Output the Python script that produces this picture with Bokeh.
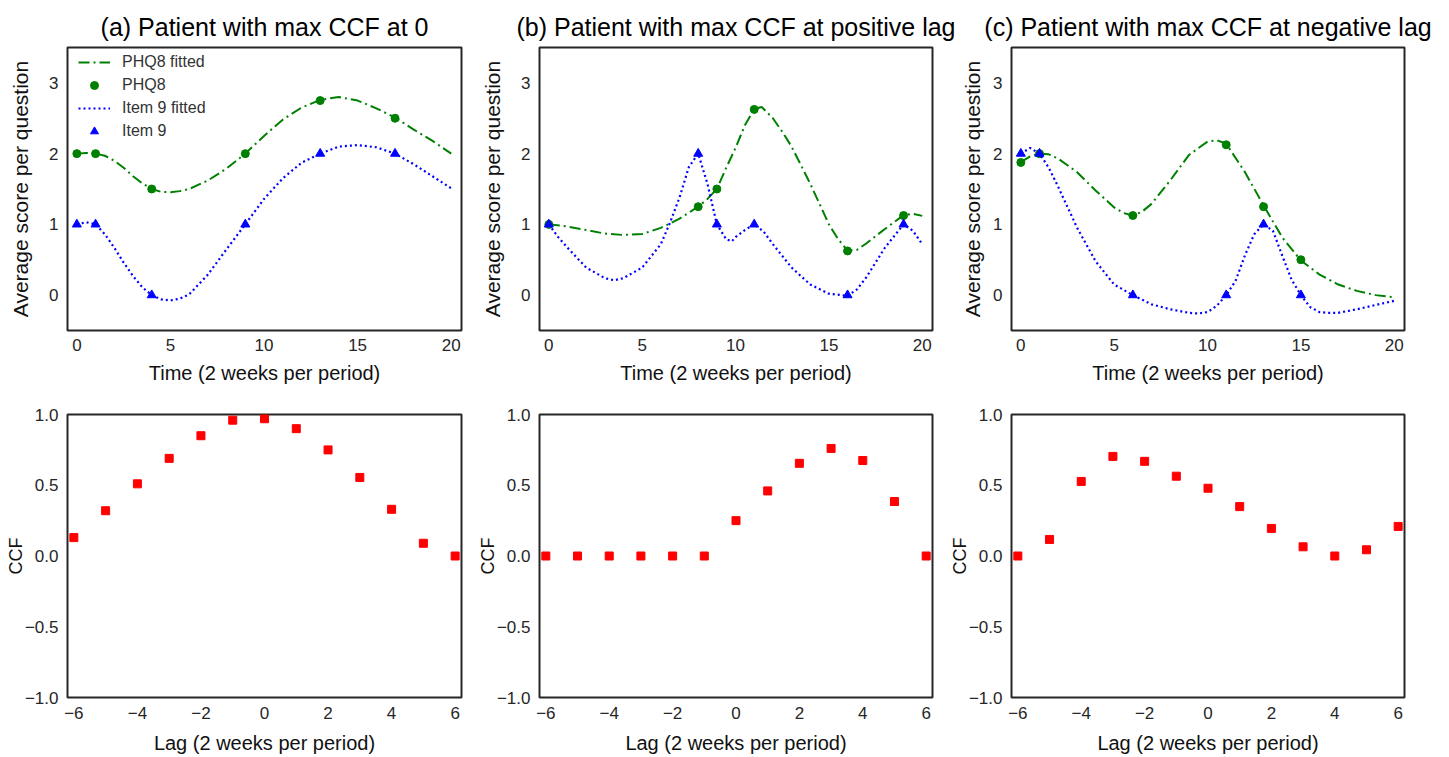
from bokeh.plotting import figure
from bokeh.models import Range1d, FixedTicker, Legend, LegendItem
from bokeh.layouts import column, row
from bokeh.embed import file_html
from bokeh.resources import INLINE

FONT = "Liberation Sans"

# ---------------- data ----------------
titles = ["(a) Patient with max CCF at 0",
          "(b) Patient with max CCF at positive lag",
          "(c) Patient with max CCF at negative lag"]
legend_labels = ["PHQ8 fitted", "PHQ8", "Item 9 fitted", "Item 9"]
time_axis_label = "Time (2 weeks per period)"
score_axis_label = "Average score per question"
lag_axis_label = "Lag (2 weeks per period)"
ccf_axis_label = "CCF"

time_ticks = [0, 5, 10, 15, 20]
score_ticks = [0, 1, 2, 3]
lag_ticks = [-6, -4, -2, 0, 2, 4, 6]
lag_tick_labels = ["\u22126", "\u22124", "\u22122", "0", "2", "4", "6"]
ccf_ticks = [-1.0, -0.5, 0.0, 0.5, 1.0]
ccf_tick_labels = ["\u22121.0", "\u22120.5", "0.0", "0.5", "1.0"]

# panel (a)
a_t = [0, 1, 4, 9, 13, 17]
a_phq8 = [2.0, 2.0, 1.5, 2.0, 2.75, 2.5]
a_item9 = [1, 1, 0, 1, 2, 2]
a_phq8_fit_x = [0, 0.5, 1, 1.5, 2, 2.5, 3, 3.5, 4, 4.5, 5, 5.5, 6, 7, 8, 9, 10, 11, 12, 13, 14, 15, 16, 17, 18, 19, 20]
a_phq8_fit_y = [2.0, 2.01, 2.0, 1.97, 1.9, 1.8, 1.68, 1.58, 1.5, 1.46, 1.455, 1.47, 1.5, 1.62, 1.79, 2.0, 2.25,
                2.48, 2.65, 2.76, 2.8, 2.75, 2.64, 2.51, 2.34, 2.18, 2.0]
a_item9_fit_x = [0, 0.5, 1, 1.5, 2, 2.5, 3, 3.5, 4, 4.5, 5, 5.5, 6, 7, 8, 9, 10, 11, 12, 13, 14, 15, 16, 17, 18, 19, 20]
a_item9_fit_y = [1.0, 1.03, 1.0, 0.86, 0.67, 0.46, 0.27, 0.11, 0.0, -0.06, -0.075, -0.05, 0.01, 0.29, 0.65, 1.0,
                 1.36, 1.65, 1.87, 2.0, 2.1, 2.12, 2.09, 2.0, 1.85, 1.68, 1.51]

# panel (b)
b_t = [0, 8, 9, 11, 16, 19]
b_phq8 = [1.0, 1.25, 1.5, 2.625, 0.625, 1.125]
b_item9 = [1, 2, 1, 1, 0, 1]
b_phq8_fit_x = [0, 1, 2, 3, 4, 5, 6, 7, 8, 8.5, 9, 9.5, 10, 10.5, 11, 11.4, 12, 12.5, 13, 13.5, 14, 14.5, 15,
                15.5, 16, 16.5, 17, 18, 19, 19.5, 20]
b_phq8_fit_y = [1.0, 0.97, 0.92, 0.87, 0.85, 0.865, 0.95, 1.08, 1.25, 1.36, 1.5, 1.8, 2.08, 2.4, 2.63, 2.66, 2.5,
                2.31, 2.1, 1.84, 1.575, 1.29, 1.0, 0.79, 0.63, 0.64, 0.73, 0.935, 1.13, 1.15, 1.12]
b_item9_fit_x = [0, 0.5, 1, 2, 3, 3.5, 4, 5, 6, 6.5, 7, 7.5, 8, 8.5, 9, 9.5, 9.8, 10, 10.5, 11, 11.5, 12, 13, 14,
                 15, 16, 16.5, 17, 18, 19, 19.5, 20]
b_item9_fit_y = [1.0, 0.82, 0.67, 0.39, 0.24, 0.21, 0.24, 0.39, 0.72, 1.03, 1.38, 1.81, 2.0, 1.57, 1.0, 0.79,
                 0.76, 0.82, 0.92, 1.0, 0.9, 0.72, 0.39, 0.15, 0.02, -0.01, 0.08, 0.25, 0.67, 1.0, 0.91, 0.72]

# panel (c)
c_t = [0, 1, 6, 11, 13, 15]
c_phq8 = [1.875, 2.0, 1.125, 2.125, 1.25, 0.5]
c_item9 = [2, 2, 0, 0, 1, 0]
c_phq8_fit_x = [0, 0.5, 1, 1.5, 2, 3, 4, 5, 5.5, 6, 6.5, 7, 8, 9, 10, 10.5, 11, 12, 13, 14, 15, 16, 17, 18, 19, 20]
c_phq8_fit_y = [1.88, 1.96, 2.0, 1.99, 1.93, 1.74, 1.48, 1.24, 1.16, 1.125, 1.18, 1.29, 1.62, 1.98, 2.17, 2.19,
                2.14, 1.74, 1.27, 0.815, 0.49, 0.29, 0.15, 0.06, 0.0, -0.03]
c_item9_fit_x = [0, 0.5, 1, 1.5, 2, 3, 4, 5, 6, 7, 8, 9, 9.5, 10, 10.5, 11, 11.5, 12, 12.5, 13, 13.5, 14, 14.5,
                 15, 15.5, 16, 16.5, 17, 18, 19, 20]
c_item9_fit_y = [2.0, 2.08, 2.0, 1.8, 1.53, 0.96, 0.48, 0.15, 0.0, -0.13, -0.2, -0.25, -0.26, -0.24, -0.15, 0.0,
                 0.2, 0.56, 0.86, 1.0, 0.91, 0.56, 0.22, 0.0, -0.17, -0.24, -0.25, -0.25, -0.2, -0.14, -0.08]

# cross-correlation
lags = [-6, -5, -4, -3, -2, -1, 0, 1, 2, 3, 4, 5, 6]
ccf_a = [0.13, 0.32, 0.51, 0.69, 0.85, 0.96, 0.97, 0.90, 0.75, 0.555, 0.33, 0.09, 0.0]
ccf_b = [0.0, 0.0, 0.0, 0.0, 0.0, 0.0, 0.25, 0.46, 0.655, 0.76, 0.675, 0.385, 0.0]
ccf_c = [0.0, 0.117, 0.527, 0.704, 0.669, 0.564, 0.479, 0.349, 0.195, 0.065, 0.0, 0.044, 0.209]

FH = 283  # frame height (px)


# ---------------- helpers ----------------
def style_axis(ax, label, label_size, label_standoff, tick_standoff):
    ax.axis_label = label
    ax.axis_line_color = None
    ax.major_tick_line_color = None
    ax.minor_tick_line_color = None
    ax.major_tick_in = 0
    ax.major_tick_out = 0
    ax.minor_tick_in = 0
    ax.minor_tick_out = 0
    ax.major_label_text_font = FONT
    ax.major_label_text_font_size = "17px"
    ax.major_label_text_color = "#262626"
    ax.major_label_standoff = tick_standoff
    ax.axis_label_text_font = FONT
    ax.axis_label_text_font_size = label_size
    ax.axis_label_text_font_style = "normal"
    ax.axis_label_text_color = "#111111"
    ax.axis_label_standoff = label_standoff


def base_fig(title, fw, left, right, top, bottom, xr, yr):
    kw = dict(frame_width=fw, frame_height=FH,
              x_range=Range1d(*xr), y_range=Range1d(*yr),
              output_backend="svg", toolbar_location=None,
              min_border_left=left, min_border_right=right,
              min_border_top=top, min_border_bottom=bottom)
    if title:
        kw["title"] = title
    p = figure(**kw)
    p.background_fill_color = "white"
    p.border_fill_color = "white"
    p.outline_line_color = "#262626"
    p.outline_line_width = 2
    p.outline_line_alpha = 1.0
    p.xgrid.visible = False
    p.ygrid.visible = False
    if title:
        p.title.text_font = FONT
        p.title.text_font_size = "25px"
        p.title.text_font_style = "normal"
        p.title.text_color = "#000000"
        p.title.align = "center"
        p.title.standoff = 14
    return p


top_specs = [
    (titles[0], 394, 67, 16, 14, a_t, a_phq8, a_item9, a_phq8_fit_x, a_phq8_fit_y, a_item9_fit_x, a_item9_fit_y, True),
    (titles[1], 393, 62, 26, 14, b_t, b_phq8, b_item9, b_phq8_fit_x, b_phq8_fit_y, b_item9_fit_x, b_item9_fit_y, False),
    (titles[2], 393, 53, 44, 6, c_t, c_phq8, c_item9, c_phq8_fit_x, c_phq8_fit_y, c_item9_fit_x, c_item9_fit_y, False),
]

top_figs = []
for (title, fw, left, right, ystand, t, phq, item, pfx, pfy, ifx, ify, show_legend) in top_specs:
    p = base_fig(title, fw, left, right, 47, 62, (-0.5, 20.55), (-0.5, 3.5))
    p.xaxis.ticker = FixedTicker(ticks=time_ticks)
    p.yaxis.ticker = FixedTicker(ticks=score_ticks)
    style_axis(p.xaxis[0], time_axis_label, "20px", 8, 8)
    style_axis(p.yaxis[0], score_axis_label, "21px", ystand, 9)

    r1 = p.line(pfx, pfy, line_color="green", line_width=2, line_dash="11 4 2 4")
    r2 = p.scatter(t, phq, marker="circle", size=8, fill_color="green", line_color="green")
    r3 = p.line(ifx, ify, line_color="blue", line_width=2.2, line_dash="2 3")
    r4 = p.scatter(t, item, marker="triangle", size=9, fill_color="blue", line_color="blue")

    if show_legend:
        items = [LegendItem(label=lab, renderers=[r]) for lab, r in zip(legend_labels, [r1, r2, r3, r4])]
        leg = Legend(items=items, location=(11, FH - 94), margin=0, padding=0, spacing=3,
                     glyph_width=32, glyph_height=20, label_standoff=12, label_height=20,
                     label_text_font=FONT, label_text_font_size="16px", label_text_color="#333333",
                     border_line_color=None, background_fill_alpha=0)
        p.add_layout(leg)
    top_figs.append(p)

bottom_specs = [
    (394, 67, 12, ccf_a),
    (393, 66, 13, ccf_b),
    (393, 66, 44, ccf_c),
]
bottom_figs = []
for (fw, left, right, ccf) in bottom_specs:
    p = base_fig(None, fw, left, right, 22, 58, (-6.2, 6.2), (-1.0, 1.0))
    p.xaxis.ticker = FixedTicker(ticks=lag_ticks)
    p.yaxis.ticker = FixedTicker(ticks=ccf_ticks)
    p.xaxis.major_label_overrides = dict(zip(lag_ticks, lag_tick_labels))
    p.yaxis.major_label_overrides = dict(zip(ccf_ticks, ccf_tick_labels))
    style_axis(p.xaxis[0], lag_axis_label, "20px", 10, 9)
    style_axis(p.yaxis[0], ccf_axis_label, "18px", -4, 9)
    p.scatter(lags, ccf, marker="square", size=8, fill_color="red", line_color="red")
    bottom_figs.append(p)

layout = column(row(*top_figs), row(*bottom_figs))
open("out.html", "w").write(file_html(layout, INLINE))
